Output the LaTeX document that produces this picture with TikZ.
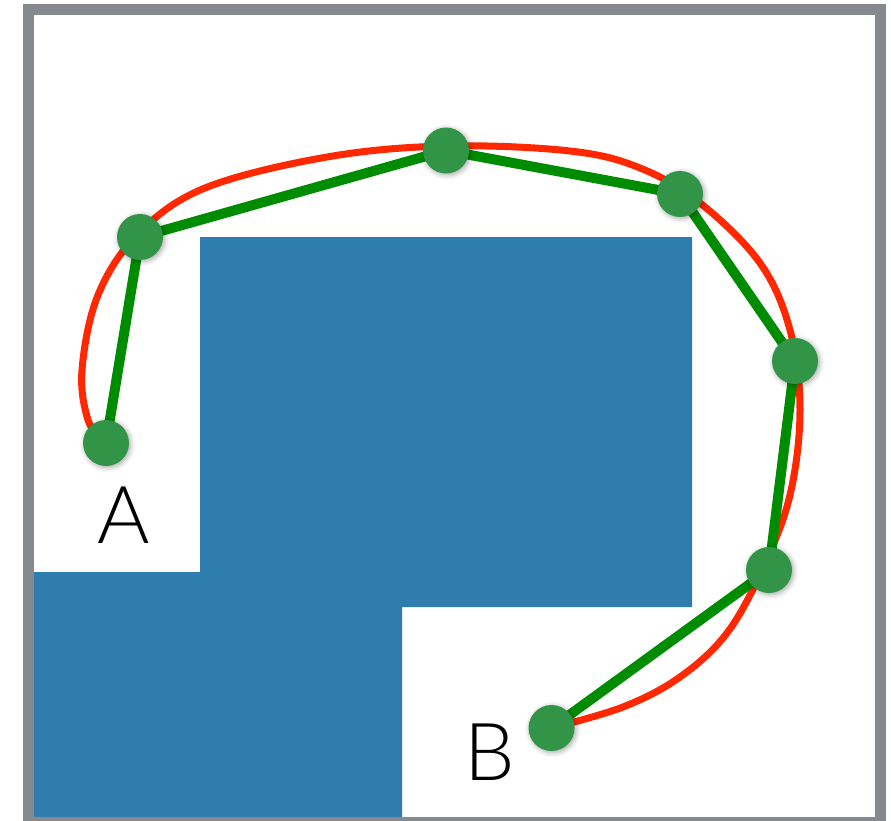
\documentclass[tikz,border=0pt]{standalone}
\usepackage{fontspec}
\newfontfamily\labelfont{Lato}[UprightFont=* Light]
\usetikzlibrary{shadows.blur}
\definecolor{framegray}{RGB}{134,137,142}
\definecolor{wallblue}{RGB}{47,125,175}
\definecolor{pathred}{RGB}{255,40,0}
\definecolor{pathgreen}{RGB}{0,140,0}
\definecolor{dotgreen}{RGB}{50,148,70}
\tikzset{
  waypoint/.style={circle, fill=dotgreen, minimum size=46pt, inner sep=0pt,
    blur shadow={shadow xshift=1.5pt, shadow yshift=-1.5pt,
                 shadow blur radius=5pt, shadow opacity=35}},
  segment/.style={draw=pathgreen, line width=10pt},
  smoothpath/.style={draw=pathred, line width=7pt, line cap=round},
  endlabel/.style={font=\labelfont\fontsize{80}{80}\selectfont, inner sep=0pt}
}
\begin{document}
\begin{tikzpicture}[x=1pt, y=-1pt]
  \useasboundingbox (0,0) rectangle (891,821);
  % obstacle region
  \fill[wallblue] (33,572) -- (200,572) -- (200,237) -- (692,237) -- (692,607)
    -- (402,607) -- (402,830) -- (33,830) -- cycle;
  % outer frame
  \draw[framegray, line width=11pt] (28,9.5) rectangle (880.5,822.5);
  % smoothed trajectory
  \draw[smoothpath] plot[smooth, tension=0.6] coordinates {
    (104,442) (88,420) (82,370) (98,295) (138,234) (205,188) (327,157)
    (446,146) (570,151) (640,168) (700,203) (760,263) (790,330) (800,410)
    (790,495) (763,568) (727,633) (680,677) (623,707) (551,728)};
  % waypoints
  \coordinate (a) at (106,443);
  \coordinate (p1) at (140,237);
  \coordinate (p2) at (446,150.5);
  \coordinate (p3) at (680,194);
  \coordinate (p4) at (795,361);
  \coordinate (p5) at (769,570);
  \coordinate (b) at (551.5,728);
  \draw[segment] (a) -- (p1) -- (p2) -- (p3) -- (p4) -- (p5) -- (b);
  \foreach \n in {a,p1,p2,p3,p4,p5,b}
    \node[waypoint] (d\n) at (\n) {};
  % labels
  \node[endlabel] (labA) at (124,515.5) {A};
  \node[endlabel] (labB) at (490,752.5) {B};
\end{tikzpicture}
\end{document}
